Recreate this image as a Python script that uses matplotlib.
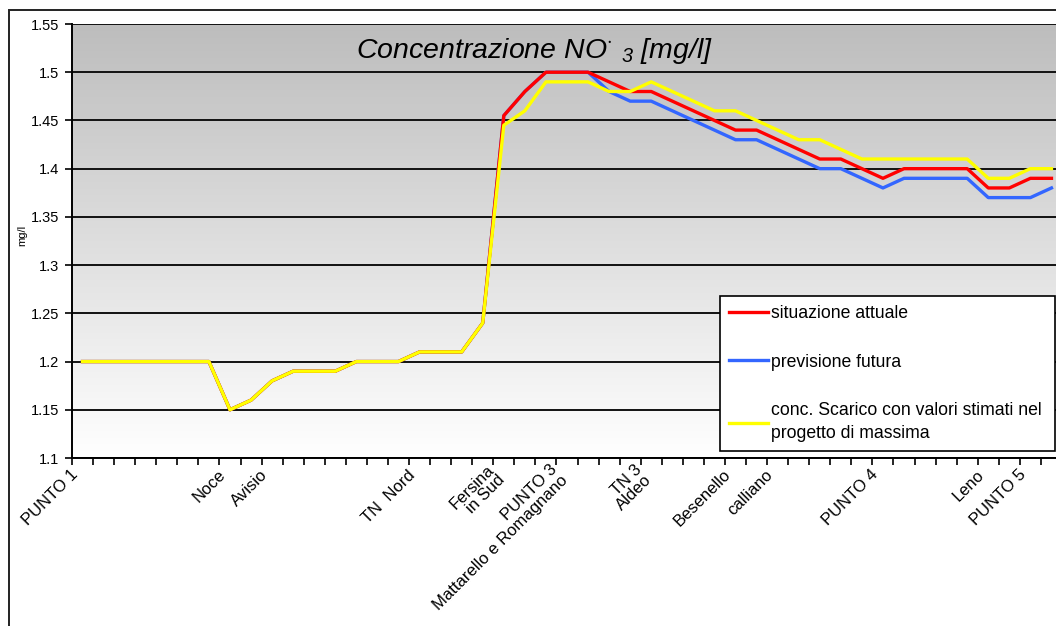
import numpy as np
import matplotlib
matplotlib.use("Agg")
import matplotlib.pyplot as plt
import matplotlib.transforms as mtransforms
from matplotlib.colors import LinearSegmentedColormap
from matplotlib.patches import Rectangle

plt.rcParams['font.family'] = 'Liberation Sans'
plt.rcParams['mathtext.fontset'] = 'custom'
plt.rcParams['mathtext.rm'] = 'Liberation Sans:italic'
plt.rcParams['mathtext.it'] = 'Liberation Sans:italic'

# punti lungo il corso del fiume (solo alcune etichette visibili)
etichette = [''] * 47
etichette[0] = 'PUNTO 1'
etichette[7] = 'Noce'
etichette[9] = 'Avisio'
etichette[16] = 'TN  Nord'
etichette[20] = 'Fersina\nin Sud'
etichette[23] = 'PUNTO 3\nMattarello e Romagnano'
etichette[27] = 'TN 3\nAldeo'
etichette[31] = 'Besenello'
etichette[33] = 'calliano'
etichette[38] = 'PUNTO 4'
etichette[43] = 'Leno'
etichette[45] = 'PUNTO 5'

attuale = [1.2, 1.2, 1.2, 1.2, 1.2, 1.2, 1.2, 1.15, 1.16, 1.18,
           1.19, 1.19, 1.19, 1.2, 1.2, 1.2, 1.21, 1.21, 1.21, 1.24,
           1.455, 1.48, 1.5, 1.5, 1.5, 1.49, 1.48, 1.48, 1.47, 1.46,
           1.45, 1.44, 1.44, 1.43, 1.42, 1.41, 1.41, 1.4, 1.39, 1.4,
           1.4, 1.4, 1.4, 1.38, 1.38, 1.39, 1.39]

futura = [1.2, 1.2, 1.2, 1.2, 1.2, 1.2, 1.2, 1.15, 1.16, 1.18,
          1.19, 1.19, 1.19, 1.2, 1.2, 1.2, 1.21, 1.21, 1.21, 1.24,
          1.455, 1.48, 1.5, 1.5, 1.5, 1.48, 1.47, 1.47, 1.46, 1.45,
          1.44, 1.43, 1.43, 1.42, 1.41, 1.4, 1.4, 1.39, 1.38, 1.39,
          1.39, 1.39, 1.39, 1.37, 1.37, 1.37, 1.38]

scarico = [1.2, 1.2, 1.2, 1.2, 1.2, 1.2, 1.2, 1.15, 1.16, 1.18,
           1.19, 1.19, 1.19, 1.2, 1.2, 1.2, 1.21, 1.21, 1.21, 1.24,
           1.445, 1.46, 1.49, 1.49, 1.49, 1.48, 1.48, 1.49, 1.48, 1.47,
           1.46, 1.46, 1.45, 1.44, 1.43, 1.43, 1.42, 1.41, 1.41, 1.41,
           1.41, 1.41, 1.41, 1.39, 1.39, 1.4, 1.4]

yticks = [1.1, 1.15, 1.2, 1.25, 1.3, 1.35, 1.4, 1.45, 1.5, 1.55]
ytick_labels = ['1.1', '1.15', '1.2', '1.25', '1.3', '1.35', '1.4', '1.45', '1.5', '1.55']

W, H = 1056, 626
fig = plt.figure(figsize=(W / 100, H / 100), dpi=100)
ax = fig.add_axes([72 / W, 1 - 458 / H, 990 / W, 434 / H])

x = np.arange(len(etichette))

# sfondo sfumato grigio -> bianco
cmap = LinearSegmentedColormap.from_list('sf', ['#bdbdbd', '#ffffff'])
ax.imshow(np.linspace(0, 1, 256).reshape(-1, 1), cmap=cmap, aspect='auto',
          extent=[-0.5, len(x) - 0.5, 1.1, 1.55], origin='upper', zorder=0)

for v in yticks:
    ax.axhline(v, color='#111111', lw=1.4, zorder=1)

ax.plot(x, futura, color='#3366ff', lw=2.4, zorder=2, label='previsione futura')
ax.plot(x, attuale, color='#ff0000', lw=2.4, zorder=3, label='situazione attuale')
ax.plot(x, scarico, color='#ffff00', lw=2.4, zorder=4,
        label='conc. Scarico con valori stimati nel\nprogetto di massima')

ax.set_xlim(-0.5, len(x) - 0.5)
ax.set_ylim(1.1, 1.55)
ax.set_yticks(yticks)
ax.set_yticklabels(ytick_labels, fontsize=10.5)
ax.tick_params(axis='y', direction='out', length=5, width=1.2, pad=4)

ax.set_xticks(x)
ax.set_xticklabels(etichette, rotation=45, ha='right', va='center',
                   rotation_mode='anchor', fontsize=12, linespacing=1.0)
ax.tick_params(axis='x', which='major', length=0, pad=14)
ax.set_xticks(np.arange(len(x) + 1) - 0.5, minor=True)
ax.tick_params(axis='x', which='minor', direction='out', length=5, width=1.2)
sposta = mtransforms.ScaledTranslation(-7 / 100, 5 / 100, fig.dpi_scale_trans)
for t in ax.get_xticklabels():
    t.set_transform(t.get_transform() + sposta)

for s in ['top', 'right']:
    ax.spines[s].set_visible(False)
for s in ['left', 'bottom']:
    ax.spines[s].set_linewidth(1.4)

fig.text(534 / W, 1 - 51 / H, r'Concentrazione NO$^{\cdot}$ $_{3}$ [mg/l]',
         fontsize=20.5, style='italic', ha='center', va='center')
fig.text(22 / W, 1 - 235 / H, 'mg/l', rotation=90, fontsize=8,
         ha='center', va='center')

h, l = ax.get_legend_handles_labels()
leg = ax.legend([h[1], h[0], h[2]], [l[1], l[0], l[2]],
                loc='upper left', mode='expand',
                bbox_to_anchor=(720 / W, 1 - 448 / H, 335 / W, 152 / H),
                bbox_transform=fig.transFigure, frameon=True, fancybox=False,
                edgecolor='black', framealpha=1, fontsize=12.7,
                handlelength=2.2, handletextpad=0.2, labelspacing=1.8,
                borderpad=0.5, borderaxespad=0)
leg.get_frame().set_linewidth(1.2)
leg.get_texts()[2].set_linespacing(1.45)

# cornice esterna
fig.add_artist(Rectangle((9 / W, -0.1), 1.2, 1 - 10 / H + 0.1,
                         transform=fig.transFigure, fill=False,
                         edgecolor='#222222', lw=1.4))

fig.savefig('out.png', dpi=100)
